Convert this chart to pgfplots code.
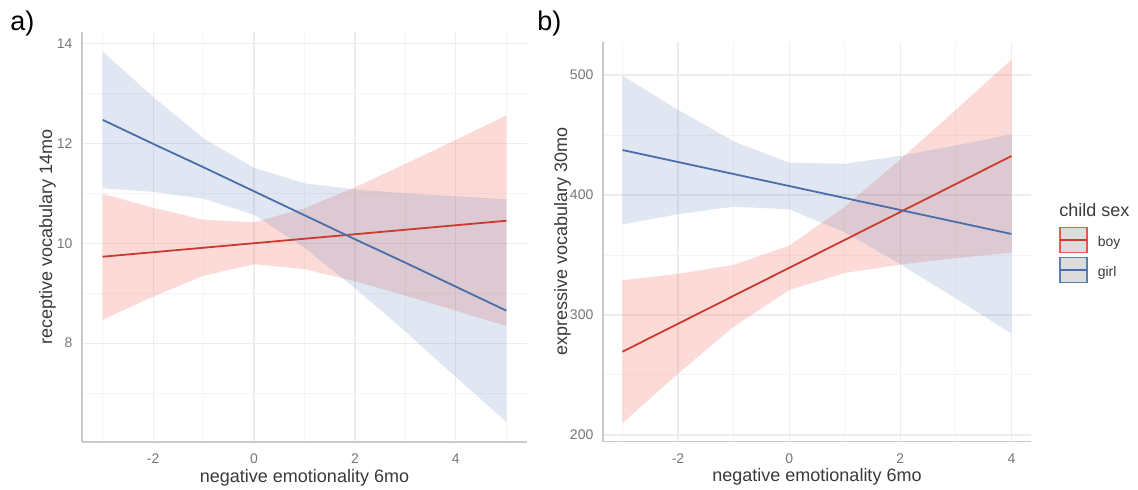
\documentclass[border=0pt]{standalone}
\usepackage{fontspec}
\setmainfont{Liberation Sans}
\usepackage{pgfplots}
\pgfplotsset{compat=1.18}
\usepackage{pgfplotstable}
\usepgfplotslibrary{fillbetween}

\definecolor{boyline}{HTML}{CB3A2E}
\definecolor{girlline}{HTML}{4A6EAA}
\definecolor{boyfill}{HTML}{F27A70}
\definecolor{girlfill}{HTML}{5A80B8}
\definecolor{gridmaj}{HTML}{EDEDED}
\definecolor{gridmin}{HTML}{F5F5F5}
\definecolor{axline}{HTML}{CACACA}
\definecolor{ticktxt}{HTML}{777777}
\definecolor{titletxt}{HTML}{3A3A3A}
\definecolor{keyfill}{HTML}{DCDCDC}
\definecolor{keyboy}{HTML}{E8584A}
\definecolor{keygirl}{HTML}{5A7FB5}

% a) receptive vocabulary 14mo
\pgfplotstableread{
x  bline bup   blo   rline rup   rlo
-3 12.47 13.84 11.10 9.73  10.99 8.47
-2 11.99 12.93 11.03 9.82  10.71 8.93
-1 11.52 12.10 10.89 9.91  10.47 9.35
0  11.04 11.51 10.57 10.00 10.42 9.58
1  10.56 11.20 9.91  10.09 10.70 9.48
2  10.08 11.08 9.10  10.18 11.12 9.24
3  9.61  11.00 8.23  10.27 11.59 8.95
4  9.13  10.94 7.32  10.36 12.07 8.65
5  8.65  10.88 6.42  10.45 12.56 8.34
}\lefttab

% b) expressive vocabulary 30mo
\pgfplotstableread{
x  bline bup   blo   rline rup   rlo
-3 437.5 499.5 375.5 269.4 328.9 209.9
-2 427.5 471.0 384.0 292.7 334.3 251.1
-1 417.5 444.7 390.3 316.0 341.8 290.2
0  407.5 427.0 388.0 339.3 357.8 320.8
1  397.5 426.0 369.0 362.6 390.2 335.0
2  387.5 432.7 342.3 385.9 429.8 342.0
3  377.5 441.3 313.7 409.2 471.1 347.3
4  367.5 450.5 284.5 432.5 513.0 352.0
}\righttab

\pgfplotsset{
  panel/.style={
    scale only axis,
    anchor=south west,
    axis x line*=bottom, axis y line*=left,
    axis line style={axline, line width=0.7pt},
    major tick length=0pt, minor tick length=0pt,
    grid=both,
    major grid style={gridmaj, line width=0.6pt},
    minor grid style={gridmin, line width=0.5pt},
    tick label style={font=\fontsize{7}{8}\selectfont, text=ticktxt},
    xticklabel style={yshift=-2.5pt},
    yticklabel style={xshift=-1.3pt},
    /pgf/number format/assume math mode=true,
    xtick={-2,0,2,4},
    label style={font=\fontsize{9}{10}\selectfont, text=titletxt},
    xlabel={negative emotionality 6mo},
    xlabel style={at={(axis description cs:0.5,0)}, anchor=center, yshift=-17.8pt},
  },
  boyribbon/.style={boyfill, fill opacity=0.28, draw=none, forget plot},
  girlribbon/.style={girlfill, fill opacity=0.19, draw=none, forget plot},
}

\begin{document}
\begin{tikzpicture}

% ---------- panel a ----------
\begin{axis}[panel,
  at={(41pt,24pt)}, width=222.5pt, height=205pt,
  xmin=-3.41, xmax=5.41, ymin=6.02, ymax=14.23,
  ytick={8,10,12,14},
  minor xtick={-3,-1,1,3,5}, minor ytick={7,9,11,13},
  ylabel={receptive vocabulary 14mo},
  ylabel style={at={(axis description cs:0,0.5)}, anchor=south, yshift=9.5pt},
]
\addplot[name path=aru, draw=none, forget plot] table[x=x,y=rup]{\lefttab};
\addplot[name path=arl, draw=none, forget plot] table[x=x,y=rlo]{\lefttab};
\addplot[boyribbon] fill between[of=aru and arl];
\addplot[name path=abu, draw=none, forget plot] table[x=x,y=bup]{\lefttab};
\addplot[name path=abl, draw=none, forget plot] table[x=x,y=blo]{\lefttab};
\addplot[girlribbon] fill between[of=abu and abl];
\addplot[boyline, line width=0.9pt, forget plot] table[x=x,y=rline]{\lefttab};
\addplot[girlline, line width=0.9pt, forget plot] table[x=x,y=bline]{\lefttab};
\end{axis}

% ---------- panel b ----------
\begin{axis}[panel,
  at={(301.5pt,24.15pt)}, width=214pt, height=200pt,
  xmin=-3.35, xmax=4.35, ymin=194.4, ymax=527.8,
  ytick={200,300,400,500},
  minor xtick={-3,-1,1,3}, minor ytick={250,350,450},
  ylabel={expressive vocabulary 30mo},
  ylabel style={at={(axis description cs:0,0.5)}, anchor=south, yshift=12.5pt},
  legend style={at={(rel axis cs:1.0654,0.5375)}, anchor=north west,
    draw=none, fill=none, inner sep=0pt, outer sep=0pt,
    row sep=1.75pt, column sep=5pt,
    font=\fontsize{7}{8}\selectfont, text=titletxt,
    nodes={inner sep=0pt, outer sep=0pt}},
  legend cell align=left,
]
\addplot[name path=bru, draw=none, forget plot] table[x=x,y=rup]{\righttab};
\addplot[name path=brl, draw=none, forget plot] table[x=x,y=rlo]{\righttab};
\addplot[boyribbon] fill between[of=bru and brl];
\addplot[name path=bbu, draw=none, forget plot] table[x=x,y=bup]{\righttab};
\addplot[name path=bbl, draw=none, forget plot] table[x=x,y=blo]{\righttab};
\addplot[girlribbon] fill between[of=bbu and bbl];
\addplot[boyline, line width=0.9pt,
  legend image code/.code={
    \draw[draw=keyboy, fill=keyfill, line width=0.75pt] (0pt,-5pt) rectangle (13.5pt,7.5pt);
    \draw[draw=boyline, line width=0.9pt] (0pt,1.25pt) -- (13.5pt,1.25pt);}
  ] table[x=x,y=rline]{\righttab};
\addlegendentry{boy}
\addplot[girlline, line width=0.9pt,
  legend image code/.code={
    \draw[draw=keygirl, fill=keyfill, line width=0.75pt] (0pt,-5pt) rectangle (13.5pt,7.5pt);
    \draw[draw=girlline, line width=0.9pt] (0pt,1.25pt) -- (13.5pt,1.25pt);}
  ] table[x=x,y=bline]{\righttab};
\addlegendentry{girl}
\end{axis}

\node[anchor=west, inner sep=0pt, font=\fontsize{9}{10}\selectfont, text=titletxt] at (529.5pt,140pt) {child sex};
\node[anchor=west, inner sep=0pt, font=\fontsize{13.5}{15}\selectfont] at (5pt,233pt) {a)};
\node[anchor=west, inner sep=0pt, font=\fontsize{13.5}{15}\selectfont] at (268.5pt,233pt) {b)};

\pgfresetboundingbox
\path[use as bounding box] (0,0) rectangle (569pt,245pt);
\end{tikzpicture}
\end{document}
